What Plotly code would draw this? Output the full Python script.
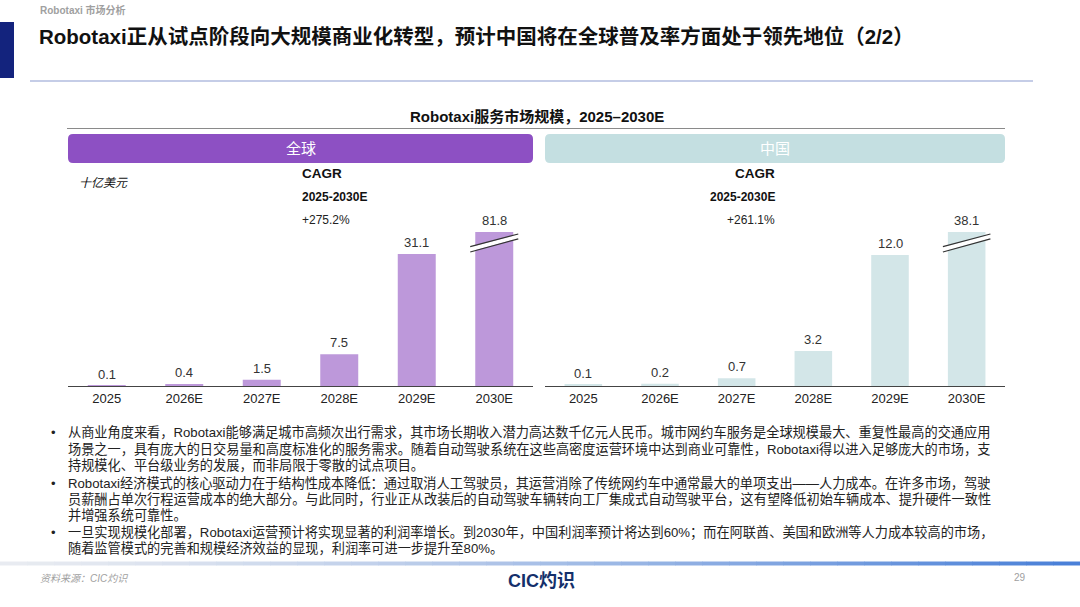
import plotly.graph_objects as go

# ---------------- data ----------------
years = ["2025", "2026E", "2027E", "2028E", "2029E", "2030E"]
global_vals = [0.1, 0.4, 1.5, 7.5, 31.1, 81.8]
china_vals = [0.1, 0.2, 0.7, 3.2, 12.0, 38.1]
panel_names = ["全球", "中国"]
cagr_values = ["+275.2%", "+261.1%"]
cagr_title = "CAGR"
cagr_period = "2025-2030E"
unit_label = "十亿美元"
chart_title = "Robotaxi服务市场规模，2025–2030E"
page_title = "Robotaxi正从试点阶段向大规模商业化转型，预计中国将在全球普及率方面处于领先地位（2/2）"
section_label = "Robotaxi 市场分析"
bullets = [
    ["从商业角度来看，Robotaxi能够满足城市高频次出行需求，其市场长期收入潜力高达数千亿元人民币。城市网约车服务是全球规模最大、重复性最高的交通应用",
     "场景之一，具有庞大的日交易量和高度标准化的服务需求。随着自动驾驶系统在这些高密度运营环境中达到商业可靠性，Robotaxi得以进入足够庞大的市场，支",
     "持规模化、平台级业务的发展，而非局限于零散的试点项目。"],
    ["Robotaxi经济模式的核心驱动力在于结构性成本降低：通过取消人工驾驶员，其运营消除了传统网约车中通常最大的单项支出——人力成本。在许多市场，驾驶",
     "员薪酬占单次行程运营成本的绝大部分。与此同时，行业正从改装后的自动驾驶车辆转向工厂集成式自动驾驶平台，这有望降低初始车辆成本、提升硬件一致性",
     "并增强系统可靠性。"],
    ["一旦实现规模化部署，Robotaxi运营预计将实现显著的利润率增长。到2030年，中国利润率预计将达到60%；而在阿联酋、美国和欧洲等人力成本较高的市场，",
     "随着监管模式的完善和规模经济效益的显现，利润率可进一步提升至80%。"],
]
source_text = "资料来源：CIC灼识"
logo_text = "CIC灼识"
page_no = "29"

# axis display limits (bars above are drawn with a break)
axis_max = [36.3, 14.1]

# ---------------- layout helpers ----------------
W, H = 1080, 607
FONT = "Liberation Sans, Noto Sans CJK SC, sans-serif"


def px(x):
    return x / W


def py(y):
    return 1 - y / H


def rrect(x0, y0, x1, y1, r):
    pts = lambda x, y: f"{px(x):.5f},{py(y):.5f}"
    return ("M " + pts(x0 + r, y0) + " L " + pts(x1 - r, y0) +
            " Q " + pts(x1, y0) + " " + pts(x1, y0 + r) +
            " L " + pts(x1, y1 - r) + " Q " + pts(x1, y1) + " " + pts(x1 - r, y1) +
            " L " + pts(x0 + r, y1) + " Q " + pts(x0, y1) + " " + pts(x0, y1 - r) +
            " L " + pts(x0, y0 + r) + " Q " + pts(x0, y0) + " " + pts(x0 + r, y0) + " Z")


panels = [
    dict(vals=global_vals, dom=[68, 533], bar="#bd98da", head="#8d50c3", cagr_x=300, xa="x", ya="y"),
    dict(vals=china_vals, dom=[545, 1005], bar="#d3e6e8", head="#c4dfe1", cagr_x=777, xa="x2", ya="y2"),
]
y_dom = [py(386), py(232)]

fig = go.Figure()
shapes = []
annotations = []

for k, p in enumerate(panels):
    fig.add_trace(go.Bar(
        x=years, y=p["vals"], xaxis=p["xa"], yaxis=p["ya"],
        marker=dict(color=p["bar"], line=dict(width=0)),
        width=0.49, hoverinfo="skip", showlegend=False,
    ))
    ymax = axis_max[k]
    for i, v in enumerate(p["vals"]):
        annotations.append(dict(
            x=i, y=min(v, ymax), xref=p["xa"], yref=p["ya"],
            text=f"{v:.1f}", showarrow=False, yanchor="bottom", yshift=2,
            font=dict(family=FONT, size=13, color="#333333")))
        if v > ymax:
            ydref = p["ya"] + " domain"
            shapes.append(dict(type="line", xref=p["xa"], yref=ydref,
                               x0=i - 0.31, x1=i + 0.31, y0=0.888, y1=0.971,
                               line=dict(color="white", width=4)))
            for (a, b) in [(0.905, 0.987), (0.870, 0.955)]:
                shapes.append(dict(type="line", xref=p["xa"], yref=ydref,
                                   x0=i - 0.31, x1=i + 0.31, y0=a, y1=b,
                                   line=dict(color="#333333", width=1.2)))
    # panel header
    shapes.append(dict(type="path", xref="paper", yref="paper",
                       path=rrect(p["dom"][0], 134, p["dom"][1], 163, 5),
                       fillcolor=p["head"], line=dict(width=0), layer="below"))
    annotations.append(dict(x=px((p["dom"][0] + p["dom"][1]) / 2), y=py(148.5), xref="paper", yref="paper",
                            text=panel_names[k], showarrow=False, xanchor="center", yanchor="middle",
                            font=dict(family=FONT, size=15, color="white")))
    # CAGR block
    annotations.append(dict(x=px(p["cagr_x"]), y=py(173), xref="paper", yref="paper",
                            text=f"<b>{cagr_title}</b>", showarrow=False, yanchor="middle",
                            font=dict(family=FONT, size=13.5, color="#111111")))
    annotations.append(dict(x=px(p["cagr_x"]), y=py(197), xref="paper", yref="paper",
                            text=f"<b>{cagr_period}</b>", showarrow=False, yanchor="middle",
                            font=dict(family=FONT, size=12, color="#111111")))
    annotations.append(dict(x=px(p["cagr_x"]), y=py(220), xref="paper", yref="paper",
                            text=cagr_values[k], showarrow=False, yanchor="middle",
                            font=dict(family=FONT, size=12, color="#222222")))

axis_common = dict(type="category", showline=True, linecolor="#444444", linewidth=1,
                   ticks="", showgrid=False, zeroline=False, fixedrange=True,
                   tickfont=dict(family=FONT, size=13, color="#222222"), range=[-0.5, 5.5])

fig.update_layout(
    width=W, height=H, margin=dict(l=0, r=0, t=0, b=0),
    paper_bgcolor="white", plot_bgcolor="white",
    xaxis=dict(domain=[px(68), px(533)], anchor="y", **axis_common),
    xaxis2=dict(domain=[px(545), px(1005)], anchor="y2", **axis_common),
    yaxis=dict(domain=y_dom, range=[0, axis_max[0]], visible=False, fixedrange=True),
    yaxis2=dict(domain=y_dom, range=[0, axis_max[1]], visible=False, fixedrange=True, anchor="x2"),
    font=dict(family=FONT),
)

# ---------------- page decoration ----------------
shapes.append(dict(type="rect", xref="paper", yref="paper", x0=0, x1=px(14), y0=py(78), y1=py(22),
                   fillcolor="#13237d", line=dict(width=0)))
shapes.append(dict(type="line", xref="paper", yref="paper", x0=px(30), x1=px(1033), y0=py(81), y1=py(81),
                   line=dict(color="#8c9bd0", width=1.2)))
shapes.append(dict(type="line", xref="paper", yref="paper", x0=px(67), x1=px(1005), y0=py(128.5), y1=py(128.5),
                   line=dict(color="#8a8a8a", width=1)))

# footer gradient line
n = 40
c0 = (232, 235, 241)
c1 = (74, 128, 216)
for s in range(n):
    t = s / (n - 1)
    t2 = t ** 1.3
    col = tuple(int(c0[j] + (c1[j] - c0[j]) * t2) for j in range(3))
    shapes.append(dict(type="rect", xref="paper", yref="paper",
                       x0=px(W * s / n), x1=px(W * (s + 1) / n + 0.5), y0=py(565.5), y1=py(561.5),
                       fillcolor=f"rgb{col}", line=dict(width=0)))

annotations.append(dict(x=px(38), y=py(10), xref="paper", yref="paper", text=f"<b>{section_label}</b>",
                        showarrow=False, xanchor="left", yanchor="middle",
                        font=dict(family=FONT, size=10, color="#a0a0a0")))
annotations.append(dict(x=px(37), y=py(37), xref="paper", yref="paper", text=f"<b>{page_title}</b>",
                        showarrow=False, xanchor="left", yanchor="middle",
                        font=dict(family=FONT, size=20.5, color="#111111")))
annotations.append(dict(x=px(537), y=py(116), xref="paper", yref="paper", text=f"<b>{chart_title}</b>",
                        showarrow=False, xanchor="center", yanchor="middle",
                        font=dict(family=FONT, size=15, color="#111111")))
annotations.append(dict(x=px(77), y=py(183), xref="paper", yref="paper", text=f"<i>{unit_label}</i>",
                        showarrow=False, xanchor="left", yanchor="middle",
                        font=dict(family=FONT, size=12, color="#111111")))

line_y = [[432, 449, 465], [483, 499, 515], [532, 548]]
for b, lines in enumerate(bullets):
    annotations.append(dict(x=px(49), y=py(line_y[b][0]), xref="paper", yref="paper", text="•",
                            showarrow=False, xanchor="left", yanchor="middle",
                            font=dict(family=FONT, size=13, color="#222222")))
    for j, ln in enumerate(lines):
        annotations.append(dict(x=px(66), y=py(line_y[b][j]), xref="paper", yref="paper", text=ln,
                                showarrow=False, xanchor="left", yanchor="middle",
                                font=dict(family=FONT, size=13.2, color="#222222")))

annotations.append(dict(x=px(38), y=py(578), xref="paper", yref="paper", text=f"<i>{source_text}</i>",
                        showarrow=False, xanchor="left", yanchor="middle",
                        font=dict(family=FONT, size=10, color="#a0a0a0")))
annotations.append(dict(x=px(541), y=py(581), xref="paper", yref="paper", text=f"<b>{logo_text}</b>",
                        showarrow=False, xanchor="center", yanchor="middle",
                        font=dict(family=FONT, size=18, color="#14306b")))
annotations.append(dict(x=px(1028), y=py(577), xref="paper", yref="paper", text=page_no,
                        showarrow=False, xanchor="right", yanchor="middle",
                        font=dict(family=FONT, size=10, color="#a0a0a0")))

fig.update_layout(shapes=shapes, annotations=annotations)
fig.write_html("out.html", config={"displayModeBar": False},
               post_script="document.body.style.margin='0';document.body.style.overflow='hidden';")
